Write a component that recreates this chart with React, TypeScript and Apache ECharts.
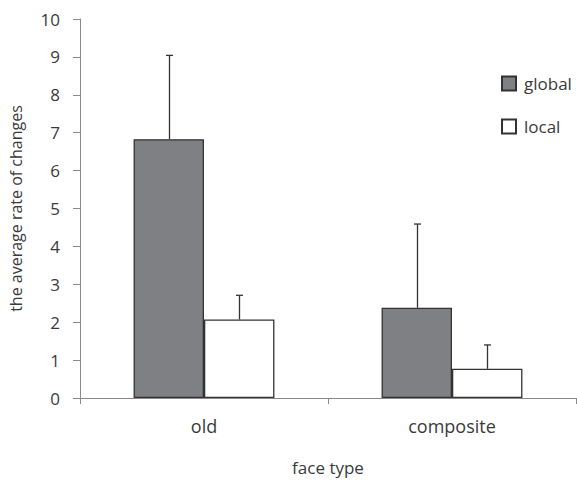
import React, { useEffect, useRef } from "react";
import * as echarts from "echarts";

const categories = ["old", "composite"];
const seriesNames = ["global", "local"];
const globalValues = [6.83, 2.38];
const globalErrTop = [9.04, 4.59];
const localValues = [2.07, 0.77];
const localErrTop = [2.71, 1.4];
const yTicks = [0, 10, 1];

const FONT = "Open Sans";
const TEXT = "#3a3a3a";

export default function App() {
  const ref = useRef<HTMLDivElement>(null);
  useEffect(() => {
    document.body.style.margin = "0";
    const chart = echarts.init(ref.current!, null, { renderer: "svg" });
    const barFrac = 0.284;
    const errSeries = (vals: number[], tops: number[], sign: number) => ({
      type: "custom",
      silent: true,
      z: 10,
      data: vals.map((v, i) => [i, v, tops[i]]),
      encode: { x: 0, y: [1, 2] },
      renderItem: (params: any, api: any) => {
        const band = api.size([1, 0])[0];
        const off = (sign * band * barFrac) / 2;
        const p0 = api.coord([api.value(0), api.value(1)]);
        const p1 = api.coord([api.value(0), api.value(2)]);
        const x = Math.round(p0[0] + off) + 0.5;
        const style = { stroke: "#333", lineWidth: 1.3 };
        return {
          type: "group",
          children: [
            { type: "line", shape: { x1: x, y1: p0[1], x2: x, y2: p1[1] }, style },
            { type: "line", shape: { x1: x - 3.5, y1: p1[1], x2: x + 3.5, y2: p1[1] }, style },
          ],
        };
      },
    });
    chart.setOption({
      animation: false,
      grid: { left: 78, right: 1, top: 19, bottom: 69 },
      legend: {
        orient: "vertical",
        left: 496,
        top: 70,
        itemWidth: 14,
        itemHeight: 14,
        itemGap: 26,
        icon: "rect",
        data: seriesNames,
        textStyle: { fontFamily: FONT, fontSize: 17, color: TEXT, padding: [0, 0, 0, 3] },
      },
      xAxis: {
        type: "category",
        data: categories,
        name: "face type",
        nameLocation: "middle",
        nameGap: 61,
        nameTextStyle: { fontFamily: FONT, fontSize: 17, color: TEXT },
        axisLine: { lineStyle: { color: "#8a8a8a", width: 1 } },
        axisTick: { show: true, length: 6, lineStyle: { color: "#8a8a8a" } },
        axisLabel: { fontFamily: FONT, fontSize: 18, color: TEXT, margin: 19 },
      },
      yAxis: {
        type: "value",
        min: yTicks[0],
        max: yTicks[1],
        interval: yTicks[2],
        name: "the average rate of changes",
        nameLocation: "middle",
        nameGap: 56,
        nameTextStyle: { fontFamily: FONT, fontSize: 16, color: TEXT },
        axisLine: { show: true, lineStyle: { color: "#8a8a8a", width: 1 } },
        axisTick: { show: true, length: 7, lineStyle: { color: "#8a8a8a" } },
        splitLine: { show: false },
        axisLabel: { fontFamily: FONT, fontSize: 17, color: TEXT, margin: 20 },
      },
      series: [
        {
          name: seriesNames[0],
          type: "bar",
          data: globalValues,
          barWidth: barFrac * 100 + "%",
          barGap: "0%",
          itemStyle: { color: "#7f8083", borderColor: "#333", borderWidth: 1.3 },
        },
        {
          name: seriesNames[1],
          type: "bar",
          data: localValues,
          barWidth: barFrac * 100 + "%",
          barGap: "0%",
          itemStyle: { color: "#ffffff", borderColor: "#333", borderWidth: 1.3 },
        },
        errSeries(globalValues, globalErrTop, -1),
        errSeries(localValues, localErrTop, 1),
      ],
    });
    return () => chart.dispose();
  }, []);
  return <div ref={ref} style={{ width: 577, height: 481 }} />;
}
